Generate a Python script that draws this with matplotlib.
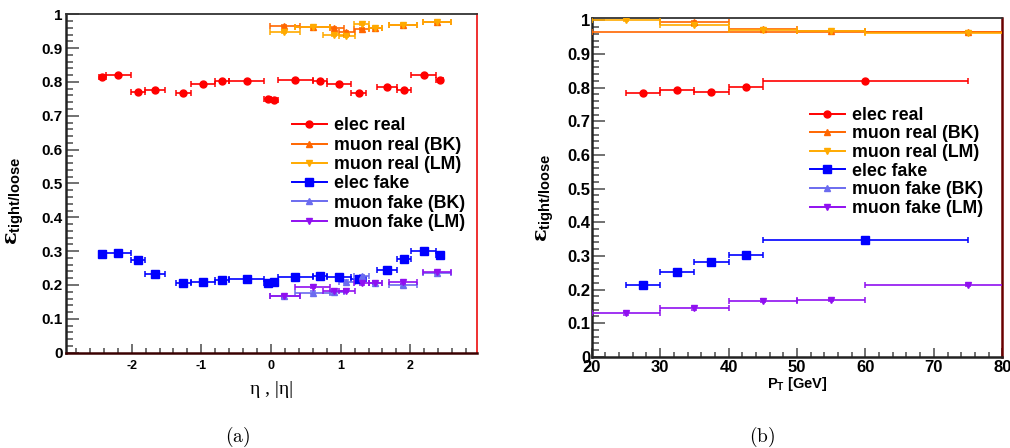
import matplotlib
matplotlib.use('Agg')
import matplotlib.pyplot as plt
from matplotlib.ticker import MultipleLocator, FuncFormatter
from matplotlib.lines import Line2D
import numpy as np

plt.rcParams['font.family'] = ['Liberation Sans', 'DejaVu Sans']
plt.rcParams['font.weight'] = 'bold'
plt.rcParams['mathtext.fontset'] = 'custom'
plt.rcParams['mathtext.rm'] = 'DejaVu Serif'
plt.rcParams['mathtext.it'] = 'DejaVu Serif:italic'
plt.rcParams['mathtext.bf'] = 'Liberation Sans:bold'

# ---------------- panel (a): efficiency vs eta ----------------
el_eta_lo = [-2.47, -2.37, -2.01, -1.81, -1.37, -1.15, -0.8, -0.6, -0.1, 0.0,
             0.1, 0.6, 0.8, 1.15, 1.52, 1.81, 2.01, 2.37]
el_eta_hi = [-2.37, -2.01, -1.81, -1.52, -1.15, -0.8, -0.6, -0.1, 0.0, 0.1,
             0.6, 0.8, 1.15, 1.37, 1.81, 2.01, 2.37, 2.47]
el_real_eta = [0.814, 0.821, 0.771, 0.776, 0.767, 0.795, 0.803, 0.803, 0.749, 0.747,
               0.806, 0.803, 0.795, 0.767, 0.785, 0.777, 0.819, 0.807]
el_fake_eta = [0.291, 0.295, 0.273, 0.232, 0.205, 0.209, 0.214, 0.217, 0.205, 0.208,
               0.225, 0.228, 0.223, 0.218, 0.243, 0.278, 0.301, 0.288]

mu_eta_x = [0.19, 0.60, 0.90, 1.08, 1.30, 1.49, 1.90, 2.39]
mu_bk_eta_lo = [-0.02, 0.35, 0.84, 0.98, 1.19, 1.40, 1.69, 2.18]
mu_lm_eta_lo = [-0.02, 0.35, 0.74, 0.98, 1.19, 1.40, 1.69, 2.18]
mu_eta_hi = [0.42, 0.85, 1.05, 1.20, 1.41, 1.59, 2.10, 2.59]
mu_real_bk_eta = [0.966, 0.963, 0.958, 0.947, 0.956, 0.958, 0.968, 0.976]
mu_real_lm_eta = [0.948, 0.963, 0.938, 0.937, 0.971, 0.958, 0.967, 0.976]
mu_fake_bk_eta = [0.167, 0.177, 0.178, 0.210, 0.226, 0.207, 0.199, 0.236]
mu_fake_lm_eta = [0.167, 0.195, 0.183, 0.183, 0.205, 0.207, 0.208, 0.238]

# ---------------- panel (b): efficiency vs pT ----------------
el_pt_x = [27.5, 32.5, 37.5, 42.5, 60.0]
el_pt_lo = [25, 30, 35, 40, 45]
el_pt_hi = [30, 35, 40, 45, 75]
el_real_pt = [0.784, 0.793, 0.788, 0.801, 0.821]
el_real_pt_err = [0.003, 0.003, 0.003, 0.003, 0.003]
el_fake_pt = [0.214, 0.251, 0.282, 0.304, 0.347]
el_fake_pt_err = [0.004, 0.004, 0.008, 0.007, 0.006]

mu_lm_pt_x = [25, 35, 45, 55, 75]
mu_lm_pt_lo = [20, 30, 40, 50, 60]
mu_lm_pt_hi = [30, 40, 50, 60, 90]
mu_real_lm_pt = [1.000, 0.987, 0.972, 0.967, 0.962]
mu_fake_lm_pt = [0.129, 0.144, 0.167, 0.169, 0.213]
mu_fake_lm_pt_err = [0.004, 0.004, 0.004, 0.004, 0.004]

mu_bk_pt_x = [35, 45, 55, 75, 110]
mu_bk_pt_lo = [30, 40, 50, 60, 20]
mu_bk_pt_hi = [40, 50, 60, 90, 200]
mu_real_bk_pt = [0.994, 0.975, 0.969, 0.964, 0.965]

labels = ['elec real', 'muon real (BK)', 'muon real (LM)',
          'elec fake', 'muon fake (BK)', 'muon fake (LM)']
colors = ['#ff0000', '#ff6600', '#ffaa00', '#0000ff', '#6b6bef', '#9010f0']
markers = ['o', '^', 'v', 's', '^', 'v']
msizes = [5.0, 4.5, 4.5, 5.5, 4.5, 4.5]


def draw(ax, x, lo, hi, y, idx, yerr=None):
    x = np.asarray(x, float)
    xerr = [x - np.asarray(lo, float), np.asarray(hi, float) - x]
    ax.errorbar(x, y, xerr=xerr, yerr=yerr, fmt=markers[idx], color=colors[idx],
                ms=msizes[idx], mec=colors[idx], mfc=colors[idx],
                elinewidth=1.2, capsize=2.2, capthick=1.1, zorder=3)


def style(ax, xmaj, xmin, big):
    ax.yaxis.set_major_locator(MultipleLocator(0.1))
    ax.yaxis.set_minor_locator(MultipleLocator(0.02))
    ax.xaxis.set_major_locator(MultipleLocator(xmaj))
    ax.xaxis.set_minor_locator(MultipleLocator(xmin))
    f = FuncFormatter(lambda v, p: f'{v:g}')
    ax.xaxis.set_major_formatter(f)
    ax.yaxis.set_major_formatter(f)
    ax.tick_params(which='both', direction='in', top=False, right=False,
                   color='#666666', width=1.3)
    ax.tick_params(axis='y', which='major', length=9.4,
                   pad=0.8 if big else 2,
                   labelsize=12 if big else 11)
    ax.tick_params(axis='y', which='minor', length=5)
    ax.tick_params(axis='x', which='major', length=6.5,
                   pad=2.5 if big else 5.5, labelsize=12 if big else 9)
    ax.tick_params(axis='x', which='minor', length=3.5)
    for t in ax.get_xticklabels() + ax.get_yticklabels():
        t.set_fontweight('bold')
    ax.spines['left'].set_color('#222222')
    ax.spines['left'].set_linewidth(1.8)
    ax.spines['top'].set_color('#333333')
    ax.spines['top'].set_linewidth(1.3)


def legend(ax, x, y, spacing):
    handles = [Line2D([], [], color=c, marker=m, ms=s, lw=1.4)
               for c, m, s in zip(colors, markers, msizes)]
    leg = ax.legend(handles, labels, loc='upper left', bbox_to_anchor=(x, y),
                    frameon=False, fontsize=12.8, handlelength=1.97,
                    handletextpad=0.4, labelspacing=spacing, borderpad=0,
                    borderaxespad=0)
    for t in leg.get_texts():
        t.set_fontweight('bold')


fig = plt.figure(figsize=(10.10, 4.48), dpi=100)

# ---- left panel ----
axa = fig.add_axes([65.5 / 1010, 1 - 352.7 / 448, 411 / 1010, 338.5 / 448])
el_eta_x = [(a + b) / 2 for a, b in zip(el_eta_lo, el_eta_hi)]
draw(axa, el_eta_x, el_eta_lo, el_eta_hi, el_real_eta, 0, yerr=0.003)
draw(axa, mu_eta_x, mu_bk_eta_lo, mu_eta_hi, mu_real_bk_eta, 1, yerr=0.003)
draw(axa, mu_eta_x, mu_lm_eta_lo, mu_eta_hi, mu_real_lm_eta, 2, yerr=0.003)
draw(axa, el_eta_x, el_eta_lo, el_eta_hi, el_fake_eta, 3, yerr=0.003)
draw(axa, mu_eta_x, mu_bk_eta_lo, mu_eta_hi, mu_fake_bk_eta, 4, yerr=0.004)
draw(axa, mu_eta_x, mu_lm_eta_lo, mu_eta_hi, mu_fake_lm_eta, 5, yerr=0.004)
axa.set_xlim(-2.95, 2.95)
axa.set_ylim(0, 1.0)
style(axa, 1, 0.2, False)
axa.spines['right'].set_color('#ee2020')
axa.spines['right'].set_linewidth(1.3)
axa.spines['bottom'].set_color('#3a0000')
axa.spines['bottom'].set_linewidth(1.8)
legend(axa, 0.551, 0.695, 0.13)
axa.set_xlabel('η , |η|', family=['Liberation Serif', 'DejaVu Serif'],
               fontweight='normal', fontsize=14)
axa.xaxis.set_label_coords(0.502, -0.11)
axa.xaxis.label.set_va('center')
axa.set_ylabel(r'$\mathrm{\epsilon}_{\mathbf{tight/loose}}$', fontsize=15)
axa.yaxis.set_label_coords(-0.123, 0.45)
axa.yaxis.label.set_va('center')

# ---- right panel ----
axb = fig.add_axes([591.7 / 1010, 1 - 356.8 / 448, 410.6 / 1010, 338.8 / 448])
draw(axb, el_pt_x, el_pt_lo, el_pt_hi, el_real_pt, 0, yerr=el_real_pt_err)
draw(axb, mu_bk_pt_x, mu_bk_pt_lo, mu_bk_pt_hi, mu_real_bk_pt, 1, yerr=0.003)
draw(axb, mu_lm_pt_x, mu_lm_pt_lo, mu_lm_pt_hi, mu_real_lm_pt, 2, yerr=0.003)
draw(axb, el_pt_x, el_pt_lo, el_pt_hi, el_fake_pt, 3, yerr=el_fake_pt_err)
axb.errorbar([], [], fmt=markers[4], color=colors[4])
draw(axb, mu_lm_pt_x, mu_lm_pt_lo, mu_lm_pt_hi, mu_fake_lm_pt, 5, yerr=mu_fake_lm_pt_err)
axb.set_xlim(20, 80)
axb.set_ylim(0, 1.007)
style(axb, 10, 2, True)
axb.spines['right'].set_color('#6a0000')
axb.spines['right'].set_linewidth(1.8)
axb.spines['bottom'].set_color('#222222')
axb.spines['bottom'].set_linewidth(1.8)
legend(axb, 0.531, 0.738, 0.09)
axb.set_xlabel(r'$\mathbf{P}_{\mathbf{T}}$ [GeV]', fontsize=10.5, fontweight='bold')
axb.xaxis.set_label_coords(0.5, -0.08)
axb.xaxis.label.set_va('center')
axb.set_ylabel(r'$\mathrm{\epsilon}_{\mathbf{tight/loose}}$', fontsize=15)
axb.yaxis.set_label_coords(-0.114, 0.47)
axb.yaxis.label.set_va('center')

fig.text(238 / 1010, 1 - 437 / 448, r'$\mathrm{(a)}$', math_fontfamily='cm',
         fontsize=14, ha='center', va='center')
fig.text(762 / 1010, 1 - 437 / 448, r'$\mathrm{(b)}$', math_fontfamily='cm',
         fontsize=14, ha='center', va='center')

fig.savefig('out.png', dpi=100)
